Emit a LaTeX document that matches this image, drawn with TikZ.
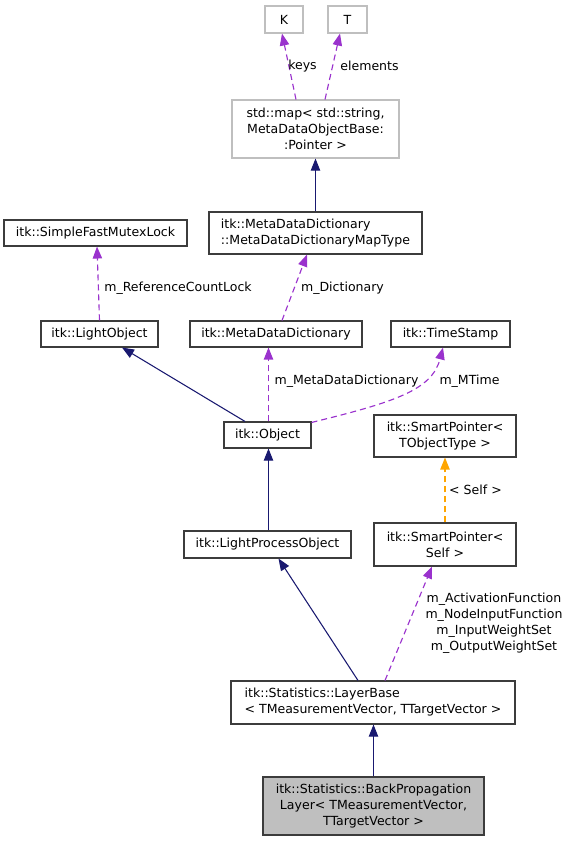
\documentclass[tikz,border=0pt]{standalone}
\usepackage{fontspec}
\setmainfont{DejaVu Sans}
\usetikzlibrary{arrows.meta,calc}
\definecolor{navy}{RGB}{25,25,112}
\definecolor{dpurple}{RGB}{154,50,205}
\definecolor{dorange}{RGB}{255,165,0}
\definecolor{gborder}{RGB}{191,191,191}
\definecolor{gfill}{RGB}{191,191,191}
\definecolor{bborder}{RGB}{60,60,60}
\tikzset{
  txt/.style={font=\fontsize{9.4pt}{12pt}\selectfont, inner sep=0pt, align=center},
  box/.style={txt, draw=bborder, line width=0.8pt, fill=white},
  gbox/.style={box, draw=gborder},
  sz/.style 2 args={minimum width=#1*0.75pt, minimum height=#2*0.75pt},
  tip/.style={-{Triangle[length=9pt,width=7pt]}},
  inh/.style={tip, draw=navy, line width=0.8pt},
  usage/.style={tip, draw=dpurple, line width=0.85pt, dash pattern=on 4.5pt off 3pt},
  tmpl/.style={tip, draw=dorange, line width=0.95pt, dash pattern=on 4.5pt off 3pt},
}
\begin{document}
\begin{tikzpicture}[x=0.75pt,y=-0.75pt]
\useasboundingbox (0,0) rectangle (569,843);
% nodes
\node[gbox,sz={38}{27}] (K) at (284,19.5) {K};
\node[gbox,sz={39}{27}] (T) at (347.5,19.5) {T};
\node[gbox,sz={167}{58}] (map) at (315.5,129) {std::map< std::string,\\ MetaDataObjectBase:\\:Pointer >};
\node[box,sz={213}{42},align=left] (mdt) at (315.5,233) {itk::MetaDataDictionary\\::MetaDataDictionaryMapType};
\node[box,sz={183}{26}] (sfml) at (95.5,233) {itk::SimpleFastMutexLock};
\node[box,sz={117}{26}] (lo) at (99.5,334) {itk::LightObject};
\node[box,sz={172}{26}] (mdd) at (276,334) {itk::MetaDataDictionary};
\node[box,sz={119}{26}] (ts) at (450.5,334) {itk::TimeStamp};
\node[box,sz={87}{26}] (obj) at (267.5,435) {itk::Object};
\node[box,sz={142}{42}] (spt) at (445,436) {itk::SmartPointer<\\ TObjectType >};
\node[box,sz={167}{27}] (lpo) at (267.5,544.5) {itk::LightProcessObject};
\node[box,sz={142}{43}] (sps) at (445,544.5) {itk::SmartPointer<\\ Self >};
\node[box,sz={284}{43},align=left] (lb) at (373,702.5) {itk::Statistics::LayerBase\\< TMeasurementVector, TTargetVector >};
\node[box,sz={221}{58},fill=gfill] (bp) at (373.5,806) {itk::Statistics::BackPropagation\\Layer< TMeasurementVector,\\ TTargetVector >};
% edges
\draw[usage] ($(map.north)+(-19.5,0)$) -- ($(K.south)+(-2,0)$);
\draw[usage] ($(map.north)+(9.5,0)$) -- ($(T.south)+(-7.5,0)$);
\draw[inh] (mdt.north) -- (map.south);
\draw[usage] ($(mdd.north)+(6,0)$) -- ($(mdt.south)+(-8.5,0)$);
\draw[usage] (lo.north) -- ($(sfml.south)+(1.5,0)$);
\draw[inh] ($(obj.north)+(-22.5,0)$) -- ($(lo.south)+(22.5,0)$);
\draw[usage] ($(obj.north)+(1,0)$) -- ($(mdd.south)+(-7.5,0)$);
\draw[usage] ($(obj.north east)+(0,1)$) .. controls (395,402) and (432,390) .. ($(ts.south)+(-7.5,0)$);
\draw[tmpl] (sps.north) -- (spt.south);
\draw[inh] ($(lpo.north)+(1,0)$) -- ($(obj.south)+(1,0)$);
\draw[inh] ($(lb.north)+(-15,0)$) -- ($(lpo.south)+(11,0)$);
\draw[usage] ($(lb.north)+(12,0)$) -- ($(sps.south)+(-13,0)$);
\draw[inh] (bp.north) -- ($(lb.south)+(0.5,0)$);
% labels
\node[txt] (lkeys) at (302.5,66) {keys};
\node[txt] (lelem) at (369.5,66) {elements};
\node[txt] (lrcl) at (178,288) {m\_ReferenceCountLock};
\node[txt] (ldict) at (342.5,288) {m\_Dictionary};
\node[txt] (lmdd) at (346.5,381) {m\_MetaDataDictionary};
\node[txt] (lmt) at (469.5,381) {m\_MTime};
\node[txt] (lself) at (475.5,490) {< Self >};
\node[txt] (lfun) at (494,623) {m\_ActivationFunction\\m\_NodeInputFunction\\m\_InputWeightSet\\m\_OutputWeightSet};
\end{tikzpicture}
\end{document}
